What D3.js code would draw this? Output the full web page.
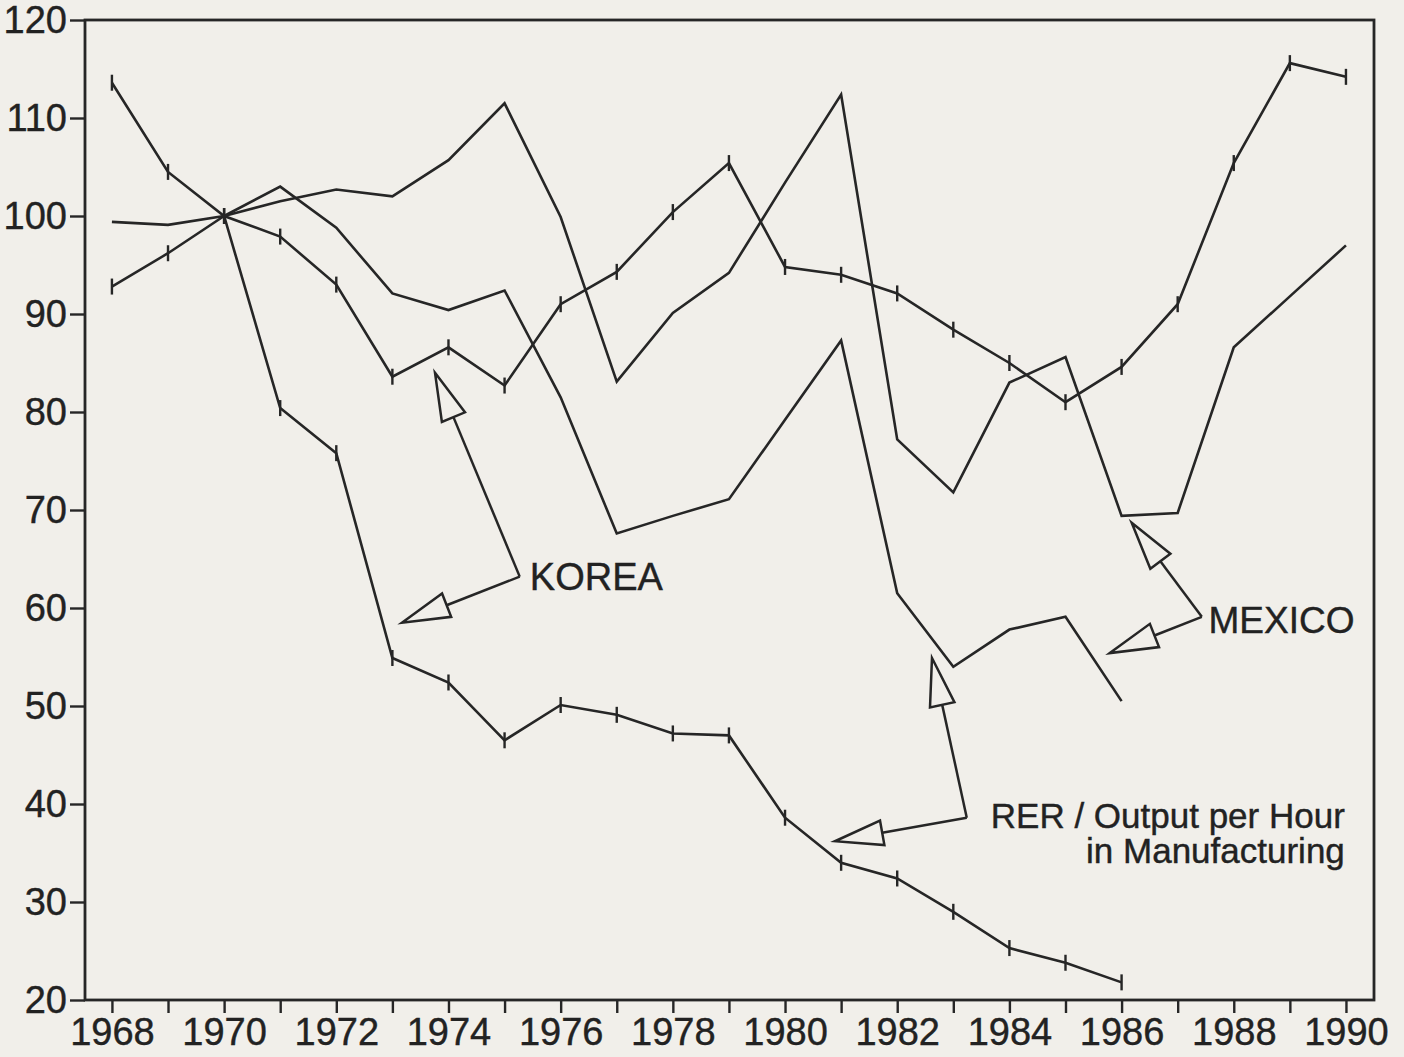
<!DOCTYPE html>
<html>
<head>
<meta charset="utf-8">
<script src="https://cdn.jsdelivr.net/npm/d3@7"></script>
<style>
  body { margin: 0; background: #f1efea; }
  text { font-family: "Liberation Sans", Arial, Helvetica, sans-serif; fill: #222; }
</style>
</head>
<body>
<div id="chart"></div>
<script>
// years on the x axis
var years = [1968, 1969, 1970, 1971, 1972, 1973, 1974, 1975, 1976, 1977, 1978, 1979,
             1980, 1981, 1982, 1983, 1984, 1985, 1986, 1987, 1988, 1989, 1990];

// Korea (lines with tick marks), 1970 = 100
var koreaRer = [113.6, 104.5, 100, 97.9, 93.0, 83.6, 86.6, 82.7, 91.0, 94.3, 100.4, 105.4,
                94.8, 94.0, 92.1, 88.4, 85.0, 81.0, 84.6, 91.0, 105.4, 115.6, 114.2];
var koreaRerOutput = [92.8, 96.2, 100, 80.4, 75.8, 54.9, 52.4, 46.5, 50.1, 49.1, 47.2, 47.0,
                      38.6, 34.0, 32.4, 29.0, 25.3, 23.8, 21.8];          // 1968-1986

// Mexico (plain lines)
var mexicoRer = [99.4, 99.1, 100, 101.5, 102.7, 102.0, 105.7, 111.5, 99.9, 83.1, 90.1, 94.2,
                 103.4, 112.4, 77.2, 71.8, 83.0, 85.6, 69.4, 69.7, 86.6, 91.8, 97.0];
var mexicoRerOutput = [100, 103.0, 98.8, 92.1, 90.4, 92.4, 81.5, 67.6, 69.4, 71.1,
                       79.2, 87.3, 61.5, 54.0, 57.8, 59.1, 50.5];           // 1970-1986

var yTicks = [20, 30, 40, 50, 60, 70, 80, 90, 100, 110, 120];
var xLabels = [1968, 1970, 1972, 1974, 1976, 1978, 1980, 1982, 1984, 1986, 1988, 1990];

function init() {
    var w = 1404;
    var h = 1057;
    var bg = "#f1efea";
    var ink = "#262626";

    var svg = d3.select("#chart")
                .append("svg")
                .attr("width", w)
                .attr("height", h)
                .style("background", bg);

    var x = d3.scaleLinear().domain([1967.52, 1990.5]).range([85, 1374]);
    var y = d3.scaleLinear().domain([20, 120]).range([1000, 20]);

    // frame
    svg.append("rect")
       .attr("x", x(1967.52)).attr("y", y(120))
       .attr("width", x(1990.5) - x(1967.52))
       .attr("height", y(20) - y(120))
       .attr("fill", "none")
       .attr("stroke", ink)
       .attr("stroke-width", 2.8);

    // y axis
    var yAxis = svg.append("g")
       .attr("transform", "translate(" + x(1967.52) + ",0)")
       .call(d3.axisLeft(y).tickValues(yTicks).tickSize(15).tickPadding(3));
    // x axis, a tick for every year, labels on even years
    var xAxis = svg.append("g")
       .attr("transform", "translate(0," + y(20) + ")")
       .call(d3.axisBottom(x).tickValues(years).tickSize(13).tickPadding(5)
               .tickFormat(function(d) { return xLabels.indexOf(d) >= 0 ? d : ""; }));

    [yAxis, xAxis].forEach(function(g) {
        g.select(".domain").remove();
        g.selectAll("line").attr("stroke", ink).attr("stroke-width", 2.4);
        g.selectAll("text").attr("font-size", 38).attr("fill", "#222")
         .attr("stroke", "#222").attr("stroke-width", 0.4)
         .style("font-family", "'Liberation Sans', Arial, sans-serif");
    });

    var line = d3.line()
        .x(function(d) { return x(d[0]); })
        .y(function(d) { return y(d[1]); });

    var series = [
        {vals: koreaRer, start: 0, ticks: true},
        {vals: koreaRerOutput, start: 0, ticks: true},
        {vals: mexicoRer, start: 0, ticks: false},
        {vals: mexicoRerOutput, start: 2, ticks: false}
    ];

    series.forEach(function(s) {
        var pts = s.vals.map(function(v, i) { return [years[s.start + i], v]; });
        svg.append("path")
           .datum(pts)
           .attr("d", line)
           .attr("fill", "none")
           .attr("stroke", ink)
           .attr("stroke-width", 2.6)
           .attr("stroke-linejoin", "miter");
        if (s.ticks) {
            // small vertical marks on each data point
            svg.selectAll(null)
               .data(pts)
               .enter()
               .append("line")
               .attr("x1", function(d) { return x(d[0]); })
               .attr("x2", function(d) { return x(d[0]); })
               .attr("y1", function(d) { return y(d[1]) - 8; })
               .attr("y2", function(d) { return y(d[1]) + 8; })
               .attr("stroke", ink)
               .attr("stroke-width", 2.4);
        }
    });

    // hollow-headed arrows, from a label corner to a line
    function arrow(from, to) {
        var x0 = x(from[0]), y0 = y(from[1]);
        var x1 = x(to[0]), y1 = y(to[1]);
        var dx = x1 - x0, dy = y1 - y0;
        var len = Math.sqrt(dx * dx + dy * dy);
        var ux = dx / len, uy = dy / len;
        var bx = x1 - ux * 48, by = y1 - uy * 48;
        svg.append("line")
           .attr("x1", x0).attr("y1", y0)
           .attr("x2", bx).attr("y2", by)
           .attr("stroke", ink).attr("stroke-width", 2.5);
        svg.append("polygon")
           .attr("points", [[x1, y1], [bx - uy * 12.5, by + ux * 12.5], [bx + uy * 12.5, by - ux * 12.5]].join(" "))
           .attr("fill", bg)
           .attr("stroke", ink)
           .attr("stroke-width", 2.5)
           .attr("stroke-linejoin", "miter");
    }

    function label(xv, yv, size, anchor, txt) {
        svg.append("text").attr("x", x(xv)).attr("y", y(yv))
           .attr("font-size", size).attr("text-anchor", anchor)
           .attr("stroke", "#222").attr("stroke-width", 0.4)
           .text(txt);
    }

    // KOREA
    arrow([1975.27, 63.2], [1973.76, 84.0]);
    arrow([1975.27, 63.2], [1973.17, 58.5]);
    label(1975.45, 61.8, 38, "start", "KOREA");

    // MEXICO
    arrow([1987.43, 59.1], [1986.18, 68.7]);
    arrow([1987.43, 59.1], [1985.79, 55.4]);
    label(1987.55, 57.4, 37, "start", "MEXICO");

    // RER / Output per Hour
    arrow([1983.24, 38.6], [1982.62, 54.9]);
    arrow([1983.24, 38.6], [1980.89, 36.2]);
    label(1989.98, 37.6, 35, "end", "RER / Output per Hour");
    label(1989.98, 34.0, 35, "end", "in Manufacturing");
}
window.onload = init;
</script>
</body>
</html>
